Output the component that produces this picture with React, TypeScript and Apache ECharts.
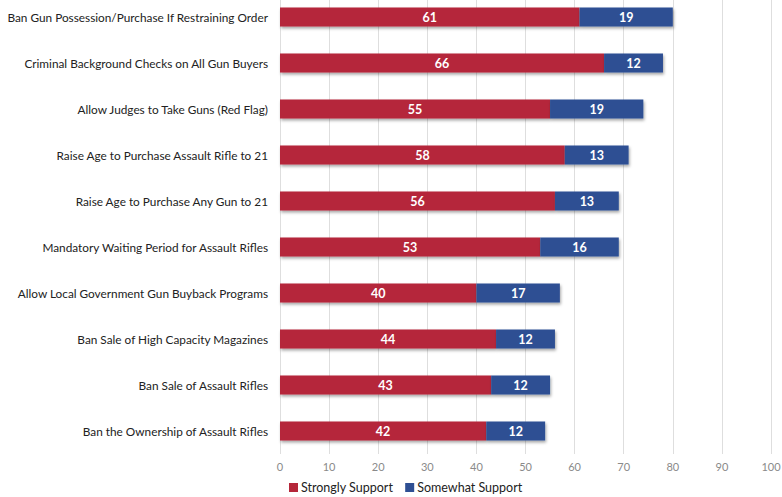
import React, { useEffect, useRef } from "react";
import * as echarts from "echarts";

const categories = [
  "Ban Gun Possession/Purchase If Restraining Order",
  "Criminal Background Checks on All Gun Buyers",
  "Allow Judges to Take Guns (Red Flag)",
  "Raise Age to Purchase Assault Rifle to 21",
  "Raise Age to Purchase Any Gun to 21",
  "Mandatory Waiting Period for Assault Rifles",
  "Allow Local Government Gun Buyback Programs",
  "Ban Sale of High Capacity Magazines",
  "Ban Sale of Assault Rifles",
  "Ban the Ownership of Assault Rifles",
];
const strongly = [61, 66, 55, 58, 56, 53, 40, 44, 43, 42];
const somewhat = [19, 12, 19, 13, 13, 16, 17, 12, 12, 12];

const FONT = "Lato, 'Open Sans', sans-serif";

export default function App() {
  const ref = useRef<HTMLDivElement>(null);
  useEffect(() => {
    if (!ref.current) return;
    const chart = echarts.init(ref.current, undefined, { renderer: "svg" });
    const barStyle = (color: string) => ({
      color,
      shadowColor: "rgba(0,0,0,0.35)",
      shadowBlur: 3,
      shadowOffsetX: 1,
      shadowOffsetY: 2,
    });
    const label = {
      show: true,
      position: "inside",
      color: "#fff",
      fontWeight: "bold",
      fontSize: 12.5,
      fontFamily: FONT,
    };
    chart.setOption({
      animation: false,
      textStyle: { fontFamily: FONT },
      grid: { left: 280, right: 11, top: -6, bottom: 43, containLabel: false, outerBoundsMode: "none" },
      legend: {
        top: 479,
        left: 284,
        itemWidth: 9,
        itemHeight: 9,
        itemGap: 12,
        icon: "rect",
        padding: [2, 5, 2, 5],
        textStyle: { fontSize: 12.5, color: "#222", fontFamily: FONT, padding: [0, 0, 0, -2] },
        data: ["Strongly Support", "Somewhat Support"],
      },
      xAxis: {
        type: "value",
        min: 0,
        max: 100,
        interval: 10,
        axisLine: { show: false },
        axisTick: { show: false },
        splitLine: { show: true, lineStyle: { color: "#dedede", width: 1 } },
        axisLabel: { color: "#8a8a8a", fontSize: 11, margin: 7, fontFamily: FONT },
      },
      yAxis: {
        type: "category",
        inverse: true,
        data: categories,
        axisLine: { show: false },
        axisTick: { show: false },
        axisLabel: { color: "#222", fontSize: 11.8, margin: 12, fontFamily: FONT },
      },
      series: [
        {
          name: "Strongly Support",
          type: "bar",
          stack: "s",
          barWidth: 19,
          data: strongly,
          itemStyle: barStyle("#b5273a"),
          label,
        },
        {
          name: "Somewhat Support",
          type: "bar",
          stack: "s",
          barWidth: 19,
          data: somewhat,
          itemStyle: barStyle("#2e4f93"),
          label,
        },
      ],
    });
    return () => chart.dispose();
  }, []);
  return <div ref={ref} style={{ width: 782, height: 497, position: "absolute", left: 0, top: 0 }} />;
}
